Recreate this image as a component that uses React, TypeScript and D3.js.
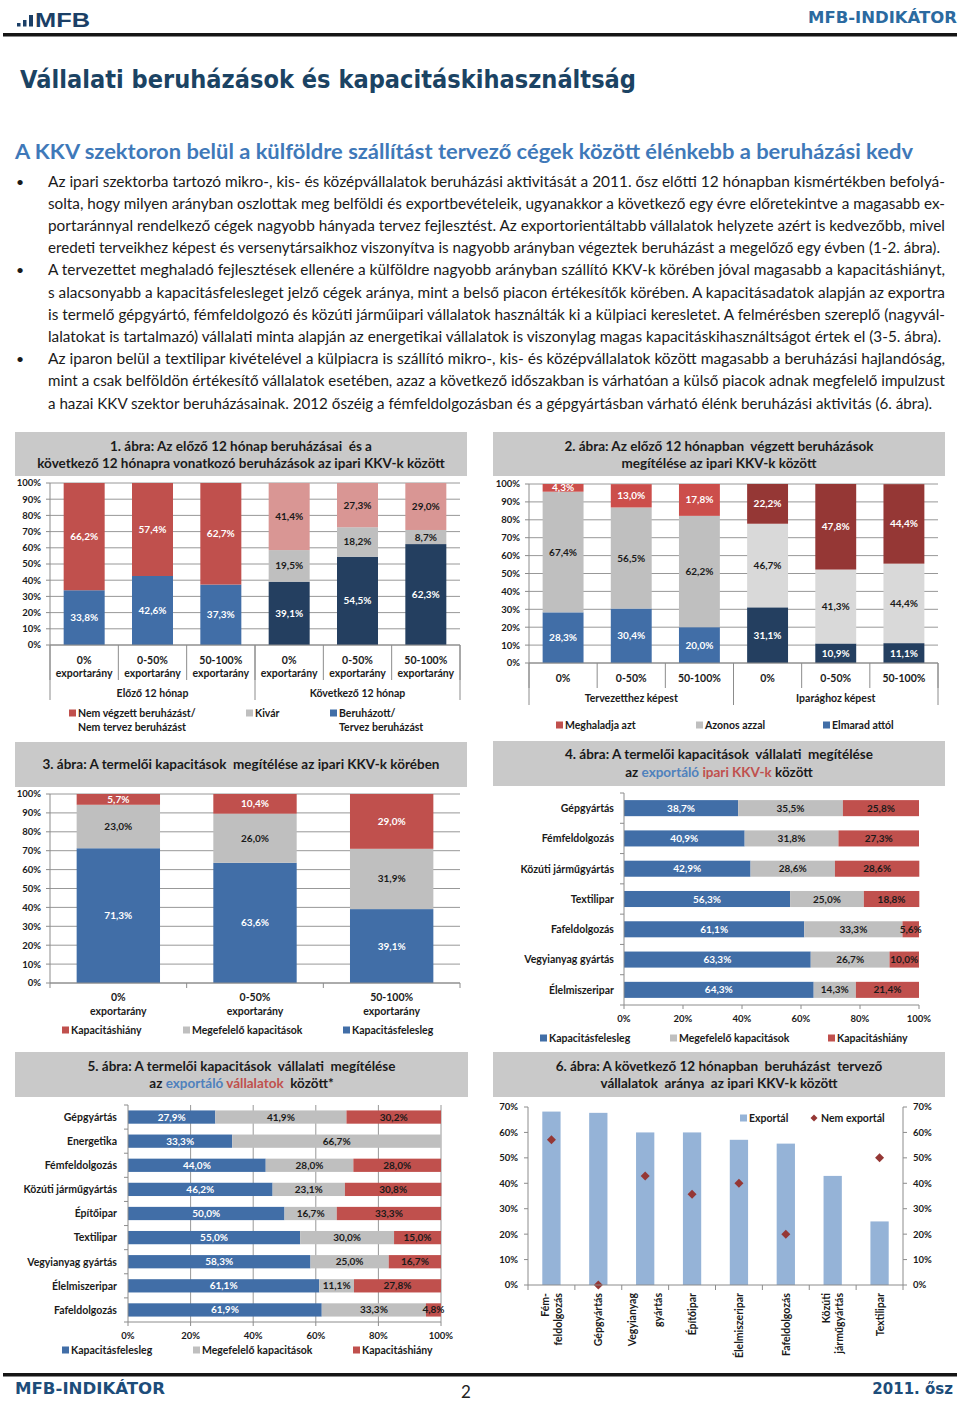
import React from 'react';
import * as d3 from 'd3';

const FONT = "Lato, 'Noto Sans', 'DejaVu Sans', sans-serif";
const DARK = '#1a1a1a';
const GRID = '#8c8c8c';
const BLUE = '#416ea7';
const RED = '#c0504d';
const PINK = '#d99694';
const NAVY = '#243f60';
const GREY = '#bfbfbf';
const LGREY = '#d9d9d9';
const RED2 = '#cc4e4b';
const DRED = '#953735';
const LBLUE = '#95b3d7';
const WHITE = '#ffffff';
const TITLEBOX = '#c9c9c9';

// ---------- text ----------
const pageTitle = 'Vállalati beruházások és kapacitáskihasználtság';
const pageSubtitle = 'A KKV szektoron belül a külföldre szállítást tervező cégek között élénkebb a beruházási kedv';
const bodyLines = [
  'Az ipari szektorba tartozó mikro-, kis- és középvállalatok beruházási aktivitását a 2011. ősz előtti 12 hónapban kismértékben befolyá-',
  'solta, hogy milyen arányban oszlottak meg belföldi és exportbevételeik, ugyanakkor a következő egy évre előretekintve a magasabb ex-',
  'portaránnyal rendelkező cégek nagyobb hányada tervez fejlesztést. Az exportorientáltabb vállalatok helyzete azért is kedvezőbb, mivel',
  'eredeti terveikhez képest és versenytársaikhoz viszonyítva is nagyobb arányban végeztek beruházást a megelőző egy évben (1-2. ábra).',
  'A tervezettet meghaladó fejlesztések ellenére a külföldre nagyobb arányban szállító KKV-k körében jóval magasabb a kapacitáshiányt,',
  's alacsonyabb a kapacitásfelesleget jelző cégek aránya, mint a belső piacon értékesítők körében. A kapacitásadatok alapján az exportra',
  'is termelő gépgyártó, fémfeldolgozó és közúti járműipari vállalatok használták ki a külpiaci keresletet. A felmérésben szereplő (nagyvál-',
  'lalatokat is tartalmazó) vállalati minta alapján az energetikai vállalatok is viszonylag magas kapacitáskihasználtságot értek el (3-5. ábra).',
  'Az iparon belül a textilipar kivételével a külpiacra is szállító mikro-, kis- és középvállalatok között magasabb a beruházási hajlandóság,',
  'mint a csak belföldön értékesítő vállalatok esetében, azaz a következő időszakban is várhatóan a külső piacok adnak megfelelő impulzust',
  'a hazai KKV szektor beruházásainak. 2012 őszéig a fémfeldolgozásban és a gépgyártásban várható élénk beruházási aktivitás (6. ábra).',
];
const bulletStarts = [0, 4, 8];

// ---------- chart 1 ----------
const c1Categories = [['0%', 'exportarány'], ['0-50%', 'exportarány'], ['50-100%', 'exportarány'], ['0%', 'exportarány'], ['0-50%', 'exportarány'], ['50-100%', 'exportarány']];
const c1Groups = ['Előző 12 hónap', 'Következő 12 hónap'];
const c1Invested = [33.8, 42.6, 37.3, 39.1, 54.5, 62.3];
const c1Waiting = [0, 0, 0, 19.5, 18.2, 8.7];
const c1NotInvested = [66.2, 57.4, 62.7, 41.4, 27.3, 29.0];

// ---------- chart 2 ----------
const c2Categories = [['0%'], ['0-50%'], ['50-100%'], ['0%'], ['0-50%'], ['50-100%']];
const c2Groups = ['Tervezetthez képest', 'Iparághoz képest'];
const c2Behind = [28.3, 30.4, 20.0, 31.1, 10.9, 11.1];
const c2Same = [67.4, 56.5, 62.2, 46.7, 41.3, 44.4];
const c2Exceeds = [4.3, 13.0, 17.8, 22.2, 47.8, 44.4];

// ---------- chart 3 ----------
const c3Categories = [['0%', 'exportarány'], ['0-50%', 'exportarány'], ['50-100%', 'exportarány']];
const c3Surplus = [71.3, 63.6, 39.1];
const c3Adequate = [23.0, 26.0, 31.9];
const c3Shortage = [5.7, 10.4, 29.0];

// ---------- chart 4 ----------
const c4Categories = ['Gépgyártás', 'Fémfeldolgozás', 'Közúti járműgyártás', 'Textilipar', 'Fafeldolgozás', 'Vegyianyag gyártás', 'Élelmiszeripar'];
const c4Surplus = [38.7, 40.9, 42.9, 56.3, 61.1, 63.3, 64.3];
const c4Adequate = [35.5, 31.8, 28.6, 25.0, 33.3, 26.7, 14.3];
const c4Shortage = [25.8, 27.3, 28.6, 18.8, 5.6, 10.0, 21.4];

// ---------- chart 5 ----------
const c5Categories = ['Gépgyártás', 'Energetika', 'Fémfeldolgozás', 'Közúti járműgyártás', 'Építőipar', 'Textilipar', 'Vegyianyag gyártás', 'Élelmiszeripar', 'Fafeldolgozás'];
const c5Surplus = [27.9, 33.3, 44.0, 46.2, 50.0, 55.0, 58.3, 61.1, 61.9];
const c5Adequate = [41.9, 66.7, 28.0, 23.1, 16.7, 30.0, 25.0, 11.1, 33.3];
const c5Shortage = [30.2, 0, 28.0, 30.8, 33.3, 15.0, 16.7, 27.8, 4.8];

// ---------- chart 6 ----------
const c6Categories = [['Fém-', 'feldolgozás'], ['Gépgyártás'], ['Vegyianyag', '', 'gyártás'], ['Építőipar'], ['Élelmiszeripar'], ['Fafeldolgozás'], ['Közúti', 'járműgyártás'], ['Textilipar']];
const c6Export = [68.2, 67.7, 60.0, 60.0, 57.1, 55.6, 42.9, 25.0];
const c6NonExport: (number | null)[] = [57.1, 0, 42.9, 35.7, 40.0, 20.0, null, 50.0];
const c6Ticks = [0, 10, 20, 30, 40, 50, 60, 70];

const fmt = (v: number) => v.toFixed(1).replace('.', ',') + '%';
const rep = <T,>(a: T, b: T) => [a, a, a, b, b, b];

type Seg = { values: number[]; fill: string[]; text: string[] };

function stackOf(series: Seg[], n: number) {
  return d3
    .stack<number>()
    .keys(series.map((_, k) => String(k)))
    .value((i, key) => series[+key].values[i])(d3.range(n));
}

function TitleBox({ x, y, w, h, lines }: { x: number; y: number; w: number; h: number; lines: { y: number; parts: [string, string][] }[] }) {
  return (
    <g>
      <rect x={x} y={y} width={w} height={h} fill={TITLEBOX} />
      {lines.map((l, i) => (
        <text key={i} x={x + w / 2} y={l.y} textAnchor="middle" fontFamily={FONT} fontWeight="bold" fontSize={13.5} fill={DARK} style={{ whiteSpace: 'pre' }}>
          {l.parts.map((p, j) => (
            <tspan key={j} fill={p[1]}>{p[0]}</tspan>
          ))}
        </text>
      ))}
    </g>
  );
}

function Legend({ y, items }: { y: number; items: { x: number; color: string; lines: string[] }[] }) {
  return (
    <g fontFamily={FONT} fontWeight="bold" fontSize={10.5} fill={DARK}>
      {items.map((it, i) => (
        <g key={i}>
          <rect x={it.x} y={y - 3.5} width={7} height={7} fill={it.color} />
          {it.lines.map((l, j) => (
            <text key={j} x={it.x + 9} y={y + 3.8 + j * 14}>{l}</text>
          ))}
        </g>
      ))}
    </g>
  );
}

function VStack(props: {
  left: number; right: number; top: number; bottom: number;
  cats: string[][]; series: Seg[]; pad: number; tickX: number;
  catY: number[]; groups?: string[]; groupY?: number; catSep: number; groupSep?: number;
}) {
  const { left, right, top, bottom, cats, series, pad, tickX, catY, groups, groupY, catSep, groupSep } = props;
  const n = cats.length;
  const x = d3.scaleBand<number>().domain(d3.range(n)).range([left, right]).paddingInner(pad).paddingOuter(pad / 2);
  const y = d3.scaleLinear().domain([0, 100]).range([bottom, top]);
  const ticks = y.ticks(10);
  const step = x.step();
  const stacks = stackOf(series, n);
  const bounds = d3.range(n + 1).map((j) => left + j * step);
  const gCount = groups ? groups.length : 0;
  const gBounds = groups ? d3.range(gCount + 1).map((j) => left + (j * (right - left)) / gCount) : [];
  return (
    <g fontFamily={FONT} fontWeight="bold">
      {ticks.map((t) => (
        <line key={'g' + t} x1={left} x2={right} y1={y(t)} y2={y(t)} stroke={GRID} strokeWidth={0.9} />
      ))}
      {stacks.map((s, k) =>
        s.map((d, i) =>
          d[1] - d[0] > 0 ? (
            <rect key={k + '-' + i} x={x(i)} width={x.bandwidth()} y={y(d[1])} height={y(d[0]) - y(d[1])} fill={series[k].fill[i]} />
          ) : null
        )
      )}
      {stacks.map((s, k) =>
        s.map((d, i) =>
          d[1] - d[0] > 0 ? (
            <text key={'t' + k + '-' + i} x={(x(i) as number) + x.bandwidth() / 2} y={y((d[0] + d[1]) / 2) + 3.5} textAnchor="middle" fontSize={10} fill={series[k].text[i]}>
              {fmt(d[1] - d[0])}
            </text>
          ) : null
        )
      )}
      <line x1={left} x2={left} y1={top} y2={bottom} stroke={GRID} strokeWidth={1} />
      {ticks.map((t) => (
        <g key={'t' + t}>
          <line x1={left - 4} x2={left} y1={y(t)} y2={y(t)} stroke={GRID} />
          <text x={tickX} y={y(t) + 3.4} textAnchor="end" fontSize={9.5} fill={DARK}>{t + '%'}</text>
        </g>
      ))}
      <line x1={left} x2={right} y1={bottom} y2={bottom} stroke={GRID} strokeWidth={1} />
      {bounds.map((b, j) => (
        <line key={'s' + j} x1={b} x2={b} y1={bottom} y2={bottom + catSep} stroke={GRID} />
      ))}
      {gBounds.map((b, j) => (
        <line key={'gs' + j} x1={b} x2={b} y1={bottom} y2={bottom + (groupSep || 0)} stroke={GRID} />
      ))}
      {cats.map((c, i) =>
        c.map((l, j) => (
          <text key={'c' + i + j} x={(x(i) as number) + x.bandwidth() / 2} y={catY[j]} textAnchor="middle" fontSize={10.5} fill={DARK}>{l}</text>
        ))
      )}
      {groups &&
        groups.map((g, j) => (
          <text key={'gr' + j} x={(gBounds[j] + gBounds[j + 1]) / 2} y={groupY} textAnchor="middle" fontSize={10.5} fill={DARK}>{g}</text>
        ))}
    </g>
  );
}

function HStack(props: {
  left: number; right: number; top: number; bottom: number;
  cats: string[]; series: Seg[]; pad: number; labelX: number; xLabelY: number; grid: boolean;
}) {
  const { left, right, top, bottom, cats, series, pad, labelX, xLabelY, grid } = props;
  const n = cats.length;
  const y = d3.scaleBand<number>().domain(d3.range(n)).range([top, bottom]).paddingInner(pad).paddingOuter(pad / 2);
  const x = d3.scaleLinear().domain([0, 100]).range([left, right]);
  const ticks = d3.range(0, 101, 20);
  const stacks = stackOf(series, n);
  const step = y.step();
  return (
    <g fontFamily={FONT} fontWeight="bold">
      {grid &&
        ticks.slice(1).map((t) => (
          <line key={'g' + t} x1={x(t)} x2={x(t)} y1={top} y2={bottom} stroke={GRID} strokeWidth={0.9} />
        ))}
      {stacks.map((s, k) =>
        s.map((d, i) =>
          d[1] - d[0] > 0 ? (
            <rect key={k + '-' + i} y={y(i)} height={y.bandwidth()} x={x(d[0])} width={x(d[1]) - x(d[0])} fill={series[k].fill[i]} />
          ) : null
        )
      )}
      {stacks.map((s, k) =>
        s.map((d, i) =>
          d[1] - d[0] > 0 ? (
            <text key={'t' + k + '-' + i} x={x((d[0] + d[1]) / 2)} y={(y(i) as number) + y.bandwidth() / 2 + 3.5} textAnchor="middle" fontSize={10} fill={series[k].text[i]}>
              {fmt(d[1] - d[0])}
            </text>
          ) : null
        )
      )}
      <line x1={left} x2={left} y1={top} y2={bottom} stroke={GRID} />
      {d3.range(n + 1).map((j) => (
        <line key={'lt' + j} x1={left - 4} x2={left} y1={top + j * step} y2={top + j * step} stroke={GRID} />
      ))}
      <line x1={left} x2={right} y1={bottom} y2={bottom} stroke={GRID} />
      {ticks.map((t) => (
        <g key={'x' + t}>
          <line x1={x(t)} x2={x(t)} y1={bottom} y2={bottom + 4} stroke={GRID} />
          <text x={x(t)} y={xLabelY} textAnchor="middle" fontSize={9.5} fill={DARK}>{t + '%'}</text>
        </g>
      ))}
      {cats.map((c, i) => (
        <text key={'c' + i} x={labelX} y={(y(i) as number) + y.bandwidth() / 2 + 3.8} textAnchor="end" fontSize={10.5} fill={DARK}>{c}</text>
      ))}
    </g>
  );
}

function Chart6() {
  const left = 528, right = 903, top = 1107, bottom = 1285;
  const n = c6Categories.length;
  const x = d3.scaleBand<number>().domain(d3.range(n)).range([left, right]).paddingInner(0.61).paddingOuter(0.305);
  const y = d3.scaleLinear().domain([0, 70]).range([bottom, top]);
  const step = x.step();
  const dia = (cx: number, cy: number, r: number) => `M${cx},${cy - r}L${cx + r},${cy}L${cx},${cy + r}L${cx - r},${cy}Z`;
  return (
    <g fontFamily={FONT} fontWeight="bold">
      {c6Export.map((v, i) => (
        <rect key={'b' + i} x={x(i)} width={x.bandwidth()} y={y(v)} height={y(0) - y(v)} fill={LBLUE} />
      ))}
      {c6NonExport.map((v, i) =>
        v === null ? null : <path key={'d' + i} d={dia((x(i) as number) + x.bandwidth() / 2, y(v), 4.5)} fill={DRED} />
      )}
      <line x1={left} x2={left} y1={top} y2={bottom} stroke={GRID} />
      <line x1={right} x2={right} y1={top} y2={bottom} stroke={GRID} />
      <line x1={left} x2={right} y1={bottom} y2={bottom} stroke={GRID} />
      {c6Ticks.map((t) => (
        <g key={'t' + t}>
          <line x1={left - 4} x2={left} y1={y(t)} y2={y(t)} stroke={GRID} />
          <line x1={right} x2={right + 4} y1={y(t)} y2={y(t)} stroke={GRID} />
          <text x={left - 10} y={y(t) + 3.4} textAnchor="end" fontSize={9.5} fill={DARK}>{t + '%'}</text>
          <text x={right + 10} y={y(t) + 3.4} textAnchor="start" fontSize={9.5} fill={DARK}>{t + '%'}</text>
        </g>
      ))}
      {d3.range(n + 1).map((j) => (
        <line key={'xt' + j} x1={left + j * step} x2={left + j * step} y1={bottom} y2={bottom + 5} stroke={GRID} />
      ))}
      {c6Categories.map((lines, i) => {
        const cx = (x(i) as number) + x.bandwidth() / 2;
        return lines.map((l, j) => (
          <text key={'c' + i + j} transform={`translate(${cx + (j - (lines.length - 1) / 2) * 13 + 4},${bottom + 8}) rotate(-90)`} textAnchor="end" fontSize={10.5} fill={DARK}>{l}</text>
        ));
      })}
      <rect x={740} y={1114.5} width={7} height={7} fill={LBLUE} />
      <text x={749} y={1122} fontSize={10.5} fill={DARK}>Exportál</text>
      <path d={dia(814, 1118, 3.5)} fill={DRED} />
      <text x={821} y={1122} fontSize={10.5} fill={DARK}>Nem exportál</text>
    </g>
  );
}

export default function App() {
  const bodyBase = [187, 209, 231, 253, 275, 298, 320, 342, 364, 386, 409];
  const bodyW = [897, 897, 897, 892, 897, 897, 897, 893, 897, 897, 884];
  const sw = (n: number) => Array(n).fill(WHITE);
  const sd = (n: number) => Array(n).fill(DARK);
  return (
    <svg width={960} height={1401} style={{ position: 'absolute', left: 0, top: 0, background: '#fff' }}>
      {/* header */}
      <rect x={17} y={23} width={3.5} height={3.5} fill="#1b3f66" />
      <rect x={23} y={20} width={3.5} height={6.5} fill="#1b3f66" />
      <rect x={29} y={15} width={4} height={11.5} fill="#1b3f66" />
      <text x={35} y={26.5} fontFamily="'Liberation Sans', Arial, sans-serif" fontWeight="bold" fontSize={20} textLength={55} lengthAdjust="spacingAndGlyphs" fill="#1b3f66">MFB</text>
      <text x={808} y={23} fontFamily="'DejaVu Sans', sans-serif" fontWeight="bold" fontSize={15} textLength={149} lengthAdjust="spacingAndGlyphs" fill="#2b6aa0">MFB-INDIKÁTOR</text>
      <rect x={3} y={33} width={954} height={3.5} fill="#151515" />
      <text x={20} y={88} fontFamily="'DejaVu Sans', sans-serif" fontWeight="bold" fontSize={25} textLength={616} lengthAdjust="spacingAndGlyphs" fill="#1b4363">{pageTitle}</text>
      <text x={15} y={159} fontFamily={FONT} fontWeight="bold" fontSize={21} textLength={898} lengthAdjust="spacingAndGlyphs" fill="#3f79b9">{pageSubtitle}</text>
      <g fontFamily={FONT} fontSize={14.5} fill={DARK}>
        {bodyLines.map((l, i) => (
          <text key={i} x={48} y={bodyBase[i]} textLength={bodyW[i]} lengthAdjust="spacingAndGlyphs">{l}</text>
        ))}
        {bulletStarts.map((b) => (
          <text key={'b' + b} x={16} y={bodyBase[b]} fontSize={14}>•</text>
        ))}
      </g>

      {/* chart 1 */}
      <TitleBox x={15} y={432} w={452} h={44} lines={[
        { y: 451, parts: [['1. ábra: Az előző 12 hónap beruházásai  és a', DARK]] },
        { y: 468, parts: [['következő 12 hónapra vonatkozó beruházások az ipari KKV-k között', DARK]] },
      ]} />
      <VStack left={50} right={460} top={483} bottom={645} cats={c1Categories} pad={0.4} tickX={41}
        catY={[664, 677]} groups={c1Groups} groupY={697} catSep={35} groupSep={55}
        series={[
          { values: c1Invested, fill: rep(BLUE, NAVY), text: sw(6) },
          { values: c1Waiting, fill: rep(GREY, GREY), text: sd(6) },
          { values: c1NotInvested, fill: rep(RED, PINK), text: rep(WHITE, DARK) },
        ]} />
      <Legend y={713} items={[
        { x: 69, color: RED, lines: ['Nem végzett beruházást/', 'Nem tervez beruházást'] },
        { x: 246, color: GREY, lines: ['Kivár'] },
        { x: 330, color: BLUE, lines: ['Beruházott/', 'Tervez beruházást'] },
      ]} />

      {/* chart 2 */}
      <TitleBox x={493} y={432} w={452} h={44} lines={[
        { y: 451, parts: [['2. ábra: Az előző 12 hónapban  végzett beruházások', DARK]] },
        { y: 468, parts: [['megítélése az ipari KKV-k között', DARK]] },
      ]} />
      <VStack left={529} right={938} top={484} bottom={663} cats={c2Categories} pad={0.4} tickX={520}
        catY={[682]} groups={c2Groups} groupY={702} catSep={25} groupSep={42}
        series={[
          { values: c2Behind, fill: rep(BLUE, NAVY), text: sw(6) },
          { values: c2Same, fill: rep(GREY, LGREY), text: sd(6) },
          { values: c2Exceeds, fill: rep(RED2, DRED), text: sw(6) },
        ]} />
      <Legend y={725} items={[
        { x: 556, color: RED, lines: ['Meghaladja azt'] },
        { x: 696, color: GREY, lines: ['Azonos azzal'] },
        { x: 823, color: BLUE, lines: ['Elmarad attól'] },
      ]} />

      {/* chart 3 */}
      <TitleBox x={15} y={742} w={452} h={45} lines={[
        { y: 769, parts: [['3. ábra: A termelői kapacitások  megítélése az ipari KKV-k körében', DARK]] },
      ]} />
      <VStack left={50} right={460} top={794} bottom={983} cats={c3Categories} pad={0.39} tickX={41}
        catY={[1001, 1015]} catSep={5}
        series={[
          { values: c3Surplus, fill: Array(3).fill(BLUE), text: sw(3) },
          { values: c3Adequate, fill: Array(3).fill(GREY), text: sd(3) },
          { values: c3Shortage, fill: Array(3).fill(RED), text: sw(3) },
        ]} />
      <Legend y={1030} items={[
        { x: 62, color: RED, lines: ['Kapacitáshiány'] },
        { x: 183, color: GREY, lines: ['Megefelelő kapacitások'] },
        { x: 343, color: BLUE, lines: ['Kapacitásfelesleg'] },
      ]} />

      {/* chart 4 */}
      <TitleBox x={493} y={741} w={452} h={45} lines={[
        { y: 759, parts: [['4. ábra: A termelői kapacitások  vállalati  megítélése', DARK]] },
        { y: 777, parts: [['az ', DARK], ['exportáló', '#4f81bd'], [' ipari KKV-k', RED], [' között', DARK]] },
      ]} />
      <HStack left={624} right={919} top={793} bottom={1005} cats={c4Categories} pad={0.47} labelX={614} xLabelY={1022} grid={false}
        series={[
          { values: c4Surplus, fill: Array(7).fill(BLUE), text: sw(7) },
          { values: c4Adequate, fill: Array(7).fill(GREY), text: sd(7) },
          { values: c4Shortage, fill: Array(7).fill(RED), text: sd(7) },
        ]} />
      <Legend y={1038} items={[
        { x: 540, color: BLUE, lines: ['Kapacitásfelesleg'] },
        { x: 670, color: GREY, lines: ['Megefelelő kapacitások'] },
        { x: 828, color: RED, lines: ['Kapacitáshiány'] },
      ]} />

      {/* chart 5 */}
      <TitleBox x={15} y={1052} w={453} h={45} lines={[
        { y: 1071, parts: [['5. ábra: A termelői kapacitások  vállalati  megítélése', DARK]] },
        { y: 1088, parts: [['az ', DARK], ['exportáló', '#4f81bd'], [' vállalatok', RED], ['  között*', DARK]] },
      ]} />
      <HStack left={128} right={441} top={1105} bottom={1322} cats={c5Categories} pad={0.45} labelX={117} xLabelY={1339} grid={true}
        series={[
          { values: c5Surplus, fill: Array(9).fill(BLUE), text: sw(9) },
          { values: c5Adequate, fill: Array(9).fill(GREY), text: sd(9) },
          { values: c5Shortage, fill: Array(9).fill(RED), text: sd(9) },
        ]} />
      <Legend y={1350} items={[
        { x: 62, color: BLUE, lines: ['Kapacitásfelesleg'] },
        { x: 193, color: GREY, lines: ['Megefelelő kapacitások'] },
        { x: 353, color: RED, lines: ['Kapacitáshiány'] },
      ]} />

      {/* chart 6 */}
      <TitleBox x={493} y={1052} w={452} h={45} lines={[
        { y: 1071, parts: [['6. ábra: A következő 12 hónapban  beruházást  tervező', DARK]] },
        { y: 1088, parts: [['vállalatok  aránya  az ipari KKV-k között', DARK]] },
      ]} />
      <Chart6 />

      {/* footer */}
      <rect x={3} y={1373} width={954} height={3.5} fill="#151515" />
      <text x={15} y={1394} fontFamily="'DejaVu Sans', sans-serif" fontWeight="bold" fontSize={15} textLength={150} lengthAdjust="spacingAndGlyphs" fill="#1d4d7a">MFB-INDIKÁTOR</text>
      <text x={466} y={1398} textAnchor="middle" fontFamily={FONT} fontSize={17} fill="#222">2</text>
      <text x={953} y={1394} textAnchor="end" fontFamily="'DejaVu Sans', sans-serif" fontWeight="bold" fontSize={15} fill="#1d4d7a">2011. ősz</text>
    </svg>
  );
}
